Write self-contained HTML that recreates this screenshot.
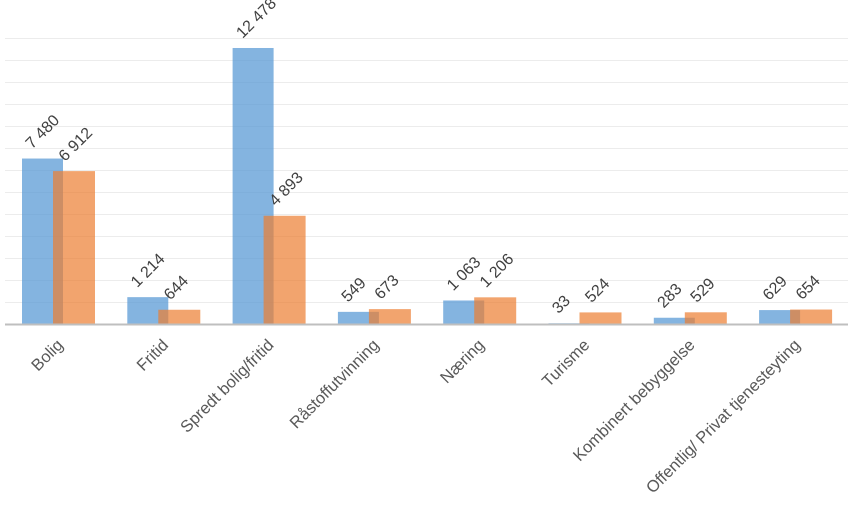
<!DOCTYPE html>
<html><head><meta charset="utf-8"><style>
html,body{margin:0;padding:0;background:#fff;}
svg{display:block;font-family:"Liberation Sans",sans-serif;}
</style></head><body>
<svg id="c" width="858" height="510" xmlns="http://www.w3.org/2000/svg">
<g stroke="#ececec" stroke-width="1">
<line x1="5" x2="848" y1="38.5" y2="38.5"/><line x1="5" x2="848" y1="60.5" y2="60.5"/><line x1="5" x2="848" y1="82.5" y2="82.5"/><line x1="5" x2="848" y1="104.5" y2="104.5"/><line x1="5" x2="848" y1="126.5" y2="126.5"/><line x1="5" x2="848" y1="148.5" y2="148.5"/><line x1="5" x2="848" y1="170.5" y2="170.5"/><line x1="5" x2="848" y1="192.5" y2="192.5"/><line x1="5" x2="848" y1="214.5" y2="214.5"/><line x1="5" x2="848" y1="236.5" y2="236.5"/><line x1="5" x2="848" y1="258.5" y2="258.5"/><line x1="5" x2="848" y1="280.5" y2="280.5"/><line x1="5" x2="848" y1="302.5" y2="302.5"/>
</g>
<g id="bars"></g>
<line x1="5" x2="848" y1="324.5" y2="324.5" stroke="#bfbfbf" stroke-width="2"/>
</svg>
<script>
var d=[["Bolig",7480,"7 480",6912,"6 912"],["Fritid",1214,"1 214",644,"644"],["Spredt bolig/fritid",12478,"12 478",4893,"4 893"],["Råstoffutvinning",549,"549",673,"673"],["Næring",1063,"1 063",1206,"1 206"],["Turisme",33,"33",524,"524"],["Kombinert bebyggelse",283,"283",529,"529"],["Offentlig/ Privat tjenesteyting",629,"629",654,"654"]];
var s="",k=0.02212,b=324;
d.forEach(function(r,i){
 var x=22+105.3*i,hb=r[1]*k,ho=r[3]*k;
 s+='<rect x="'+x+'" y="'+(b-hb)+'" width="41" height="'+hb+'" fill="#5b9bd5" fill-opacity="0.75"/>';
 s+='<rect x="'+(x+31)+'" y="'+(b-ho)+'" width="42" height="'+ho+'" fill="#ed7d31" fill-opacity="0.7"/>';
 var tx=x+10,ty=b-hb-9;
 s+='<text x="'+tx+'" y="'+ty+'" font-size="16" fill="#404040" transform="rotate(-45 '+tx+' '+ty+')">'+r[2]+'</text>';
 tx=x+43;ty=b-ho-9;
 s+='<text x="'+tx+'" y="'+ty+'" font-size="16" fill="#404040" transform="rotate(-45 '+tx+' '+ty+')">'+r[4]+'</text>';
 var cx=x+42,cy=346;
 s+='<text x="'+cx+'" y="'+cy+'" font-size="16.5" fill="#595959" text-anchor="end" transform="rotate(-45 '+cx+' '+cy+')">'+r[0]+'</text>';
});
document.getElementById("bars").innerHTML=s;
</script>
</body></html>
